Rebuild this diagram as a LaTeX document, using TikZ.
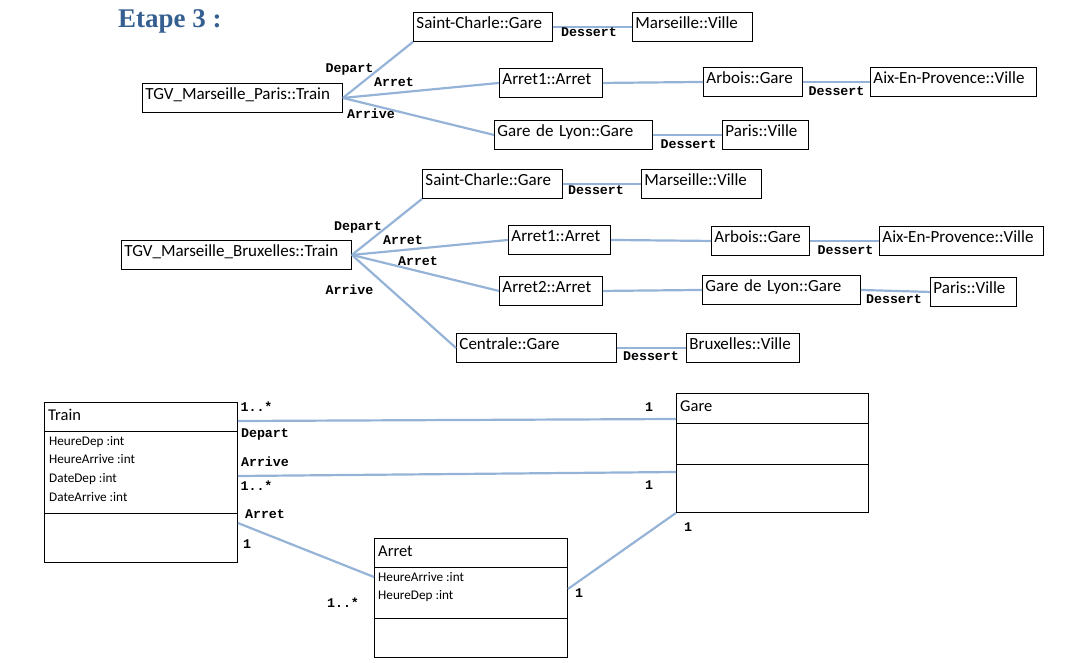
\documentclass[tikz,border=0pt]{standalone}
\usepackage{fontspec}
\setmainfont{Carlito}
\newfontfamily\rolefont{Liberation Mono}
\newfontfamily\headfont{Liberation Serif}
\usetikzlibrary{calc}
\definecolor{linkblue}{RGB}{149,179,215}
\definecolor{headblue}{RGB}{54,95,145}
\tikzset{
    obj/.style = {rectangle, draw=black, line width=0.9pt, anchor=north west, minimum height=29pt, inner xsep=3pt, inner ysep=0pt, text width=#1, align=left, text height=12pt, text depth=8pt, font=\fontsize{17}{20}\selectfont},
    classbox/.style = {rectangle, draw=black, line width=0.9pt, anchor=north west, inner sep=0pt},
    classname/.style = {anchor=base west, inner sep=0pt, font=\fontsize{16.5}{19}\selectfont},
    attr/.style = {anchor=base west, inner sep=0pt, font=\fontsize{13.2}{15}\selectfont},
    sep/.style = {draw=black, line width=0.9pt},
    link/.style = {draw=linkblue, line width=2.2pt},
    role/.style = {inner sep=0pt, text height=9pt, text depth=0pt, font=\rolefont\bfseries\fontsize{13.3}{14}\selectfont}
}

\begin{document}
\begin{tikzpicture}[x=1pt, y=-1pt]
\useasboundingbox (0,0) rectangle (1066,662);

\node[anchor=base west, inner sep=0pt, text=headblue, font=\headfont\bfseries\fontsize{27}{32}\selectfont] (title) at (118,27) {Etape 3 :};

% --- TGV MARSEILLE PARIS ---
\node[obj=194] (tgv1) at (142,83) {TGV\_Marseille\_Paris::Train};
\node[obj=133] (sc1) at (413,12) {Saint-Charle::Gare};
\node[obj=114] (mar1) at (632,12) {Marseille::Ville};
\node[obj=97] (arr1) at (499,68) {Arret1::Arret};
\node[obj=93] (arb1) at (703,67) {Arbois::Gare};
\node[obj=160] (aix1) at (870,67) {Aix-En-Provence::Ville};
\node[obj=152] (gdl1) at (494,120) {Gare de Lyon::Gare};
\node[obj=80] (par1) at (722,120) {Paris::Ville};

\draw[link] (tgv1.east) -- (sc1.south west);
\draw[link] (tgv1.east) -- (arr1.west);
\draw[link] (tgv1.east) -- (gdl1.west);
\draw[link] (sc1.east) -- (mar1.west);
\draw[link] (arr1.east) -- (arb1.west);
\draw[link] (arb1.east) -- (aix1.west);
\draw[link] (gdl1.east) -- (par1.west);

\node[role] (dep1) at (349.5,68) {Depart};
\node[role] (stop1) at (394,82) {Arret};
\node[role] (arv1) at (371,114) {Arrive};
\node[role] (des1a) at (589,32) {Dessert};
\node[role] (des1b) at (836.5,91) {Dessert};
\node[role] (des1c) at (688.5,144) {Dessert};

% --- TGV MARSEILLE BRUXELLES ---
\node[obj=224] (tgv2) at (121,240) {TGV\_Marseille\_Bruxelles::Train};
\node[obj=134] (sc2) at (422,169) {Saint-Charle::Gare};
\node[obj=114] (mar2) at (641,169) {Marseille::Ville};
\node[obj=96] (arr21) at (508,225) {Arret1::Arret};
\node[obj=92] (arb2) at (711,226) {Arbois::Gare};
\node[obj=158] (aix2) at (879,226) {Aix-En-Provence::Ville};
\node[obj=97] (arr22) at (499,276) {Arret2::Arret};
\node[obj=152] (gdl2) at (702,275) {Gare de Lyon::Gare};
\node[obj=80] (par2) at (930,277) {Paris::Ville};
\node[obj=154] (cen2) at (456,333) {Centrale::Gare};
\node[obj=107] (bru2) at (686,333) {Bruxelles::Ville};

\draw[link] (tgv2.east) -- (sc2.south west);
\draw[link] (tgv2.east) -- (arr21.west);
\draw[link] (tgv2.east) -- (arr22.west);
\draw[link] (tgv2.east) -- (cen2.west);
\draw[link] (sc2.east) -- (mar2.west);
\draw[link] (arr21.east) -- (arb2.west);
\draw[link] (arb2.east) -- (aix2.west);
\draw[link] (arr22.east) -- (gdl2.west);
\draw[link] (gdl2.east) -- (par2.west);
\draw[link] (cen2.east) -- (bru2.west);

\node[role] (dep2) at (358,226) {Depart};
\node[role] (stop2a) at (403,240) {Arret};
\node[role] (stop2b) at (418,261) {Arret};
\node[role] (arv2) at (349.5,290) {Arrive};
\node[role] (des2a) at (596,190) {Dessert};
\node[role] (des2b) at (845.5,250) {Dessert};
\node[role] (des2c) at (894,299) {Dessert};
\node[role] (des2d) at (651,356) {Dessert};

% --- CLASS DIAGRAM ---
\node[classbox, minimum width=193pt, minimum height=160pt] (train) at (44,402) {};
\draw[sep] ($(train.north west)+(0,29)$) -- ($(train.north east)+(0,29)$);
\draw[sep] ($(train.north west)+(0,111)$) -- ($(train.north east)+(0,111)$);
\node[classname] (train-name) at ($(train.north west)+(4,18)$) {Train};
\foreach \a [count=\i] in {HeureDep, HeureArrive, DateDep, DateArrive}
    \node[attr] (train-a\i) at ($(train.north west)+(5,24.5+18.7*\i)$) {\a~:int};

\node[classbox, minimum width=192pt, minimum height=119pt] (gare) at (676,393) {};
\draw[sep] ($(gare.north west)+(0,30)$) -- ($(gare.north east)+(0,30)$);
\draw[sep] ($(gare.north west)+(0,71)$) -- ($(gare.north east)+(0,71)$);
\node[classname] (gare-name) at ($(gare.north west)+(4,18)$) {Gare};

\node[classbox, minimum width=193pt, minimum height=119pt] (arret) at (374,538) {};
\draw[sep] ($(arret.north west)+(0,29)$) -- ($(arret.north east)+(0,29)$);
\draw[sep] ($(arret.north west)+(0,80)$) -- ($(arret.north east)+(0,80)$);
\node[classname] (arret-name) at ($(arret.north west)+(4,18)$) {Arret};
\foreach \a [count=\i] in {HeureArrive, HeureDep}
    \node[attr] (arret-a\i) at ($(arret.north west)+(4,24.5+18.7*\i)$) {\a~:int};

% associations
\draw[link] ($(train.north east)+(0,19)$) -- ($(gare.north west)+(0,26)$);
\draw[link] ($(train.north east)+(0,74)$) -- ($(gare.north west)+(0,79)$);
\draw[link] ($(train.north east)+(0,121)$) -- ($(arret.north west)+(0,39)$);
\draw[link] (gare.south west) -- ($(arret.north east)+(0,51)$);

\node[role] (m-dep-t) at (256.5,407) {1..*};
\node[role] (r-dep) at (265,433) {Depart};
\node[role] (r-arv) at (265,462) {Arrive};
\node[role] (m-arv-t) at (256.5,486) {1..*};
\node[role] (r-stop) at (265,514) {Arret};
\node[role] (m-stop-t) at (247,544) {1};
\node[role] (m-dep-g) at (649,407) {1};
\node[role] (m-arv-g) at (649,485) {1};
\node[role] (m-stop-g) at (688,527) {1};
\node[role] (m-stop-a) at (343,603) {1..*};
\node[role] (m-ga-a) at (579,593) {1};

\end{tikzpicture}
\end{document}
